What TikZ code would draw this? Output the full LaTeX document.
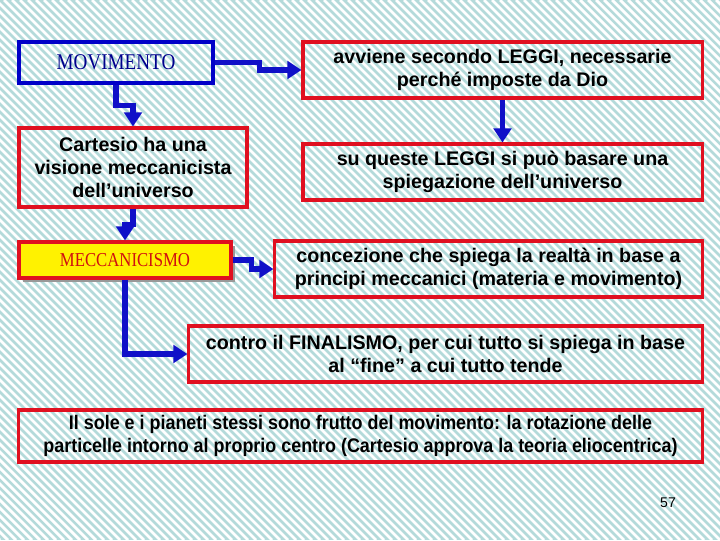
\documentclass[tikz,border=0pt]{standalone}
\usepackage{fontspec}
\setmainfont{Liberation Sans}
\newfontfamily\titlefont[FakeStretch=0.85]{Liberation Serif}
\newfontfamily\narrowfont[FakeStretch=0.91]{Liberation Sans}
\usetikzlibrary{arrows.meta,shadows}
\definecolor{stripebg}{HTML}{B4DADA}
\definecolor{boxred}{HTML}{E01020}
\definecolor{boxblue}{HTML}{0000C8}
\definecolor{arrblue}{HTML}{1010C8}
\definecolor{navy}{HTML}{00008C}
\definecolor{meccred}{HTML}{D01010}
\tikzset{
  stripe/.style={draw=white, line width=2pt},
  redbox/.style={draw=boxred, line width=2.2pt, inner sep=0pt, align=center, font=\fontsize{14}{16.5}\selectfont\bfseries},
  bluebox/.style={draw=boxblue, line width=2.2pt, inner sep=0pt, text=navy, font=\titlefont\fontsize{16}{18}\selectfont},
  yelbox/.style={draw=boxred, fill=yellow, line width=2.2pt, inner sep=0pt, text=meccred, font=\titlefont\fontsize{14}{16}\selectfont,
    drop shadow={shadow xshift=3pt, shadow yshift=-3pt, fill=gray!80, opacity=1}},
  conn/.style={draw=arrblue, line width=4pt, -{Triangle[length=10pt,width=12.5pt]}},
  pnum/.style={font=\fontsize{10}{12}\selectfont},
}
\begin{document}
\begin{tikzpicture}[x=0.025cm, y=-0.025cm]
  \useasboundingbox (0,0) rectangle (720,540);
  % striped background
  \fill[stripebg] (0,0) rectangle (720,540);
  \begin{scope}
    \clip (0,0) rectangle (720,540);
    \foreach \i in {-540,-532,...,720}
      \draw[stripe] (\i,0) -- ++(540,540);
  \end{scope}
  % left column
  \node[bluebox, minimum width=4.85cm, minimum height=1.025cm] (mov) at (116,62.5) {MOVIMENTO};
  \node[redbox, minimum width=5.7cm, minimum height=1.975cm] (cart) at (133,167.5) {Cartesio ha una\\visione meccanicista\\dell’universo};
  \node[yelbox, minimum width=5.3cm, minimum height=0.9cm] (mecc) at (125,260) {MECCANICISMO};
  % right column
  \node[redbox, minimum width=9.975cm, minimum height=1.4cm] (avv) at (502.5,70) {avviene secondo LEGGI, necessarie\\perché imposte da Dio};
  \node[redbox, minimum width=9.975cm, minimum height=1.4cm] (leggi) at (502.5,172) {su queste LEGGI si può basare una\\spiegazione dell’universo};
  \node[redbox, minimum width=10.675cm, minimum height=1.4cm] (conc) at (488.5,269) {concezione che spiega la realtà in base a\\principi meccanici (materia e movimento)};
  \node[redbox, minimum width=12.825cm, minimum height=1.4cm] (fin) at (445.5,354) {contro il FINALISMO, per cui tutto si spiega in base\\al “fine” a cui tutto tende};
  \node[redbox, minimum width=17.075cm, minimum height=1.3cm, font=\narrowfont\fontsize{14}{16.5}\selectfont\bfseries] (sole) at (360.5,436) {Il sole e i pianeti stessi sono frutto del movimento: la rotazione delle\\particelle intorno al proprio centro (Cartesio approva la teoria eliocentrica)};
  \node[pnum] (num) at (668,503) {57};
  % connectors
  \draw[conn] (mov.east) -- ++(45,0) |- (avv.west);
  \draw[conn] (mov.south) -- ++(0,21) -| (cart.north);
  \draw[conn] (cart.south) -- ++(0,16) -| (mecc.north);
  \draw[conn] (avv.south) -- (leggi.north);
  \draw[conn] (mecc.east) -- ++(19,0) |- (conc.west);
  \draw[conn] (mecc.south) |- (fin.west);
\end{tikzpicture}
\end{document}
